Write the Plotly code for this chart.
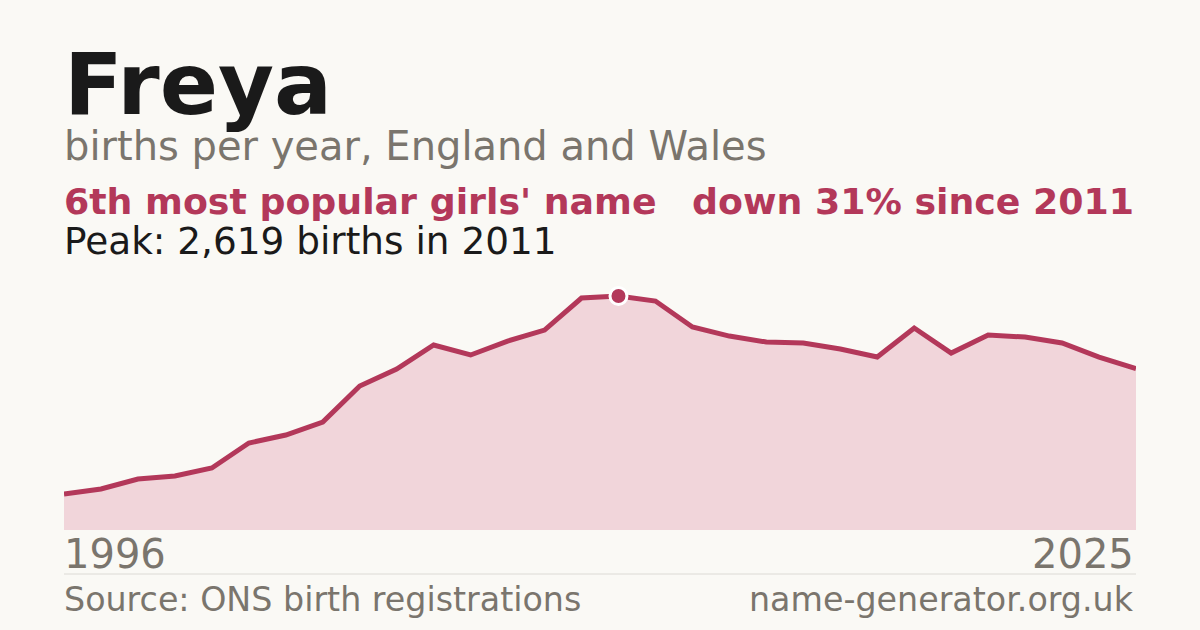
import plotly.graph_objects as go

years = list(range(1996, 2026))
births = [403, 459, 571, 604, 694, 974, 1063, 1209, 1612, 1802,
          2071, 1959, 2115, 2238, 2597, 2619, 2563, 2272, 2171, 2104,
          2093, 2026, 1936, 2261, 1981, 2183, 2160, 2093, 1936, 1807]

peak_year = 2011
peak_births = 2619

RED = "#b3385a"
FILL = "#f1d5da"
GREY = "#7a756d"
BG = "#faf9f5"
FONT = "DejaVu Sans"

W, H = 1200, 630
L, R, T, B = 64, 64, 262, 100
plot_h = H - T - B


def py(pix):
    # pixel row -> paper y
    return (H - B - pix) / plot_h


fig = go.Figure()

fig.add_trace(go.Scatter(
    x=years, y=births, mode="lines",
    line=dict(color=RED, width=5),
    fill="tozeroy", fillcolor=FILL,
    hoverinfo="skip", showlegend=False,
))

fig.add_trace(go.Scatter(
    x=[peak_year], y=[peak_births], mode="markers",
    marker=dict(color=RED, size=17, line=dict(color="white", width=3)),
    hoverinfo="skip", showlegend=False,
))

annos = [
    dict(text="<b>Freya</b>", x=0, y=py(84), xanchor="left", size=86, color="#1a1a1a"),
    dict(text="births per year, England and Wales", x=0, y=py(146), xanchor="left", size=40, color=GREY),
    dict(text="<b>6th most popular girls' name</b>", x=0, y=py(201.5), xanchor="left", size=36.3, color=RED),
    dict(text="<b>down 31% since 2011</b>", x=1, y=py(201.5), xanchor="right", size=36.3, color=RED),
    dict(text="Peak: 2,619 births in 2011", x=0, y=py(241), xanchor="left", size=37.4, color="#1a1a1a"),
    dict(text=str(years[0]), x=0, y=py(554), xanchor="left", size=40, color=GREY),
    dict(text=str(years[-1]), x=1, y=py(554), xanchor="right", size=40, color=GREY),
    dict(text="Source: ONS birth registrations", x=0, y=py(599), xanchor="left", size=33.3, color=GREY),
    dict(text="name-generator.org.uk", x=1, y=py(599), xanchor="right", size=33.3, color=GREY),
]

for a in annos:
    fig.add_annotation(
        text=a["text"], x=a["x"], y=a["y"], xref="paper", yref="paper",
        xanchor=a["xanchor"], yanchor="middle", showarrow=False,
        font=dict(family=FONT, size=a["size"], color=a["color"]),
        xshift=-2 if a["xanchor"] == "left" else 0,
    )

fig.add_shape(type="line", xref="paper", yref="paper",
              x0=0, x1=1, y0=py(574), y1=py(574),
              line=dict(color="#dcdad5", width=1))

fig.update_layout(
    width=W, height=H,
    margin=dict(l=L, r=R, t=T, b=B),
    paper_bgcolor=BG, plot_bgcolor=BG,
    font=dict(family=FONT),
    xaxis=dict(range=[years[0], years[-1]], visible=False, fixedrange=True),
    yaxis=dict(range=[0, 3000], visible=False, fixedrange=True),
    showlegend=False,
)

fig.write_html("out.html", config={"displayModeBar": False},
               post_script="document.body.style.margin='0';")
